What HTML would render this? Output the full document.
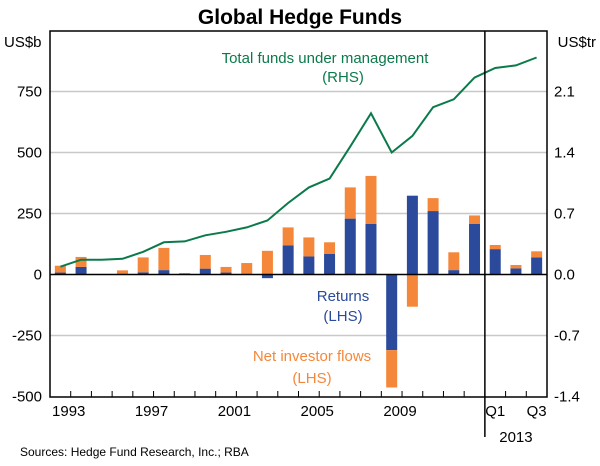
<!DOCTYPE html>
<html><head><meta charset="utf-8"><style>
body{margin:0;background:#fff;}
svg text{font-family:"Liberation Sans",Arial,sans-serif;}
</style></head><body>
<svg id="chart" width="600" height="461" viewBox="0 0 600 461" xmlns="http://www.w3.org/2000/svg">
<text x="300" y="24" text-anchor="middle" font-size="21" font-weight="bold" fill="#000">Global Hedge Funds</text>
<text x="4" y="47" font-size="15" fill="#000">US$b</text>
<text x="596" y="47" font-size="15" text-anchor="end" fill="#000">US$tr</text>
<g id="grid"></g>
<g id="bars"></g>
<g id="line"></g>
<g id="axes"></g>
<text x="325" y="63" text-anchor="middle" font-size="15" fill="#0b7a4b">Total funds under management</text>
<text x="343" y="82" text-anchor="middle" font-size="15" fill="#0b7a4b">(RHS)</text>
<text x="343" y="301" text-anchor="middle" font-size="15" fill="#2b4a9c">Returns</text>
<text x="343" y="321" text-anchor="middle" font-size="15" fill="#2b4a9c">(LHS)</text>
<text x="312" y="361" text-anchor="middle" font-size="15" fill="#f5873a">Net investor flows</text>
<text x="312" y="383" text-anchor="middle" font-size="15" fill="#f5873a">(LHS)</text>
<text x="20" y="456" font-size="12" fill="#000">Sources: Hedge Fund Research, Inc.; RBA</text>
</svg>
<script>
const categories = ["1990","1991","1992","1993","1994","1995","1996","1997","1998","1999","2000","2001","2002","2003","2004","2005","2006","2007","2008","2009","2010","2011","Q1 2013","Q2 2013","Q3 2013"].slice(0,24);
const returns = [8,31,0,1,9,18,0,24,8,0,-15,119,74,84,229,207,-310,323,260,18,207,104,25,70];
const flows = [28,41,0,16,61,91,6,56,23,47,97,74,78,48,128,197,-153,-132,53,73,35,17,14,25];
const totalFunds = [0.09,0.17,0.17,0.18,0.26,0.37,0.38,0.45,0.49,0.54,0.62,0.82,1.0,1.10,1.47,1.85,1.40,1.59,1.92,2.01,2.26,2.37,2.40,2.49];
const leftTicks = [-500,-250,0,250,500,750];
const rightTicks = ["-1.4","-0.7","0.0","0.7","1.4","2.1"];
const xLabels = [["1993",1],["1997",5],["2001",9],["2005",13],["2009",17]];

const NS="http://www.w3.org/2000/svg";
const L=50,R=547,T=31,B=397,n=24,slot=(R-L)/n;
const y0=274.5, ppu=61/250;
const yL=v=>y0-v*ppu;
const yR=v=>y0-v*(61/0.7);
const xC=i=>L+slot*(i+0.5);
function mk(tag,attrs,parent){const e=document.createElementNS(NS,tag);for(const k in attrs)e.setAttribute(k,attrs[k]);document.getElementById(parent).appendChild(e);return e;}

leftTicks.forEach((t,k)=>{
  const y=yL(t);
  if(t!==0&&t!==-500){const g=mk('line',{x1:L,x2:R,y1:y,y2:y,stroke:'#c8c8c8','stroke-width':1.5},'grid');
  
  }
  const a=mk('text',{x:42,y:y+5,'text-anchor':'end','font-size':15},'axes');a.textContent=t;
  
  
  const b=mk('text',{x:554,y:y+5,'font-size':15},'axes');b.textContent=rightTicks[k];
  
  
});
const bw=11;
for(let i=0;i<n;i++){
  const r=returns[i],f=flows[i];
  const rb=mk('rect',{x:xC(i)-bw/2,y:Math.min(yL(0),yL(r)),width:bw,height:Math.abs(r*ppu),fill:'#2b4a9c'},'bars');
  
  
  let base=0;
  if(f>=0&&r>0)base=r; else if(f<0&&r<0)base=r;
  const fb=mk('rect',{x:xC(i)-bw/2,y:Math.min(yL(base),yL(base+f)),width:bw,height:Math.abs(f*ppu),fill:'#f5873a'},'bars');
  
  
}
const pts=totalFunds.map((v,i)=>xC(i).toFixed(1)+','+yR(v).toFixed(1)).join(' ');
const pl=mk('polyline',{points:pts,fill:'none',stroke:'#0b7a4b','stroke-width':2},'line');



const z=mk('line',{x1:L,x2:R,y1:y0,y2:y0,stroke:'#000','stroke-width':1.5},'axes');


const fr=mk('rect',{x:L,y:T,width:R-L,height:B-T,fill:'none',stroke:'#000','stroke-width':1.5},'axes');


const sx=L+slot*21;
const sep=mk('line',{x1:sx,x2:sx,y1:T,y2:B+40,stroke:'#000','stroke-width':1.5},'axes');


for(let i=1;i<n;i++){
  const tk=mk('line',{x1:L+slot*i,x2:L+slot*i,y1:B,y2:B-6,stroke:'#000','stroke-width':1},'axes');
  
  
}
xLabels.forEach(([s,i])=>{
  const t=mk('text',{x:L+slot*i-2,y:416,'text-anchor':'middle','font-size':15},'axes');t.textContent=s;
  
  
});
[["Q1",21],["Q3",23]].forEach(([s,i])=>{
  const t=mk('text',{x:xC(i),y:416,'text-anchor':'middle','font-size':15},'axes');t.textContent=s;
  
  
});
const yr=mk('text',{x:xC(22),y:442,'text-anchor':'middle','font-size':15},'axes');yr.textContent='2013';


</script>
</body></html>
